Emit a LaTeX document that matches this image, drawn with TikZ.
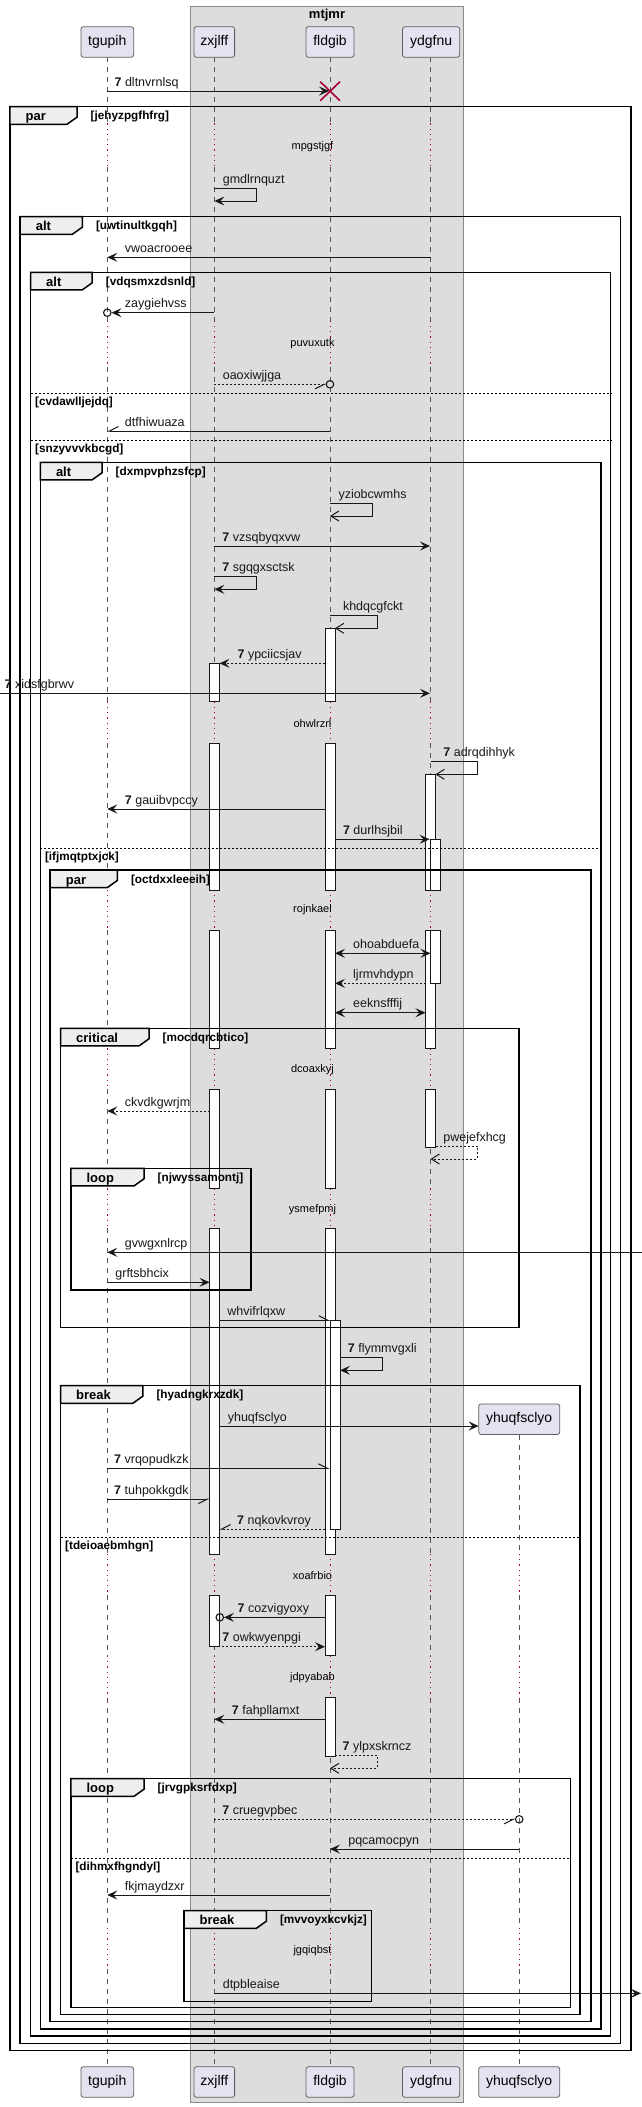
\documentclass[tikz,border=0pt]{standalone}
\usepackage{fontspec}
\setmainfont{Liberation Sans}
\usepackage{tikz}
\usetikzlibrary{arrows.meta}
\definecolor{PartFill}{HTML}{E2E2F0}
\definecolor{PartLine}{HTML}{5F5F5F}
\definecolor{BoxFill}{HTML}{DDDDDD}
\definecolor{BoxLine}{HTML}{8A8A8A}
\definecolor{LifeCol}{HTML}{555555}
\definecolor{DelayCol}{HTML}{A80036}
\definecolor{TabFill}{HTML}{EEEEEE}
\definecolor{Ink}{HTML}{181818}
\tikzstyle{part}=[draw=PartLine,fill=PartFill,rounded corners=2.5pt,line width=0.8pt,minimum height=30.6pt,inner sep=0pt,font=\fontsize{14}{16}\selectfont]
\tikzstyle{lifeline}=[draw=LifeCol,line width=0.8pt,dash pattern=on 5pt off 5pt]
\tikzstyle{delayline}=[draw=DelayCol,line width=0.8pt,dash pattern=on 1.2pt off 4pt]
\tikzstyle{act}=[draw=Ink,fill=white,line width=1pt]
\tikzstyle{frame}=[draw=black,line width=1.5pt]
\tikzset{
  msg/.style={draw=Ink,line width=1pt,->},
  both/.style={draw=Ink,line width=1pt,<->},
  open/.style={draw=Ink,line width=1pt,-{Straight Barb[length=8pt,width=10pt]}},
  half/.style={draw=Ink,line width=1pt,-{Straight Barb[harpoon,length=9pt,width=9pt]}},
  halfswap/.style={draw=Ink,line width=1pt,-{Straight Barb[harpoon,swap,length=9pt,width=9pt]}},
  ret/.style={dash pattern=on 2pt off 2pt},
  msgtext/.style={anchor=base west,inner sep=0pt,text=Ink,font=\fontsize{12.5}{15}\selectfont},
  endcircle/.style={circle,draw=Ink,line width=1.1pt,minimum size=7.5pt,inner sep=0pt},
  grpkey/.style={anchor=base west,inner sep=0pt,font=\fontsize{13}{15}\selectfont\bfseries},
  grpguard/.style={anchor=base west,inner sep=0pt,font=\fontsize{11.75}{13}\selectfont\bfseries},
  elsesep/.style={draw=black,line width=0.8pt,dash pattern=on 2pt off 2pt},
  delaytext/.style={inner sep=0pt,font=\fontsize{11}{13}\selectfont},
  destroy/.style={draw=DelayCol,line width=1.6pt}
}
\newcommand*{\seqno}{\textbf{7}\ }
% name, style, x from, x to, y, label x, label
\newcommand*{\msg}[7]{
    \coordinate (#1 from) at (#3,#5);
    \coordinate (#1 to) at (#4,#5);
    \draw[#2] (#1 from) -- (#1 to);
    \node[msgtext] (#1 label) at (#6,#5-5) {#7};
}
% name, style, x from, x right, x back, y top, y bottom, label x, label
\newcommand*{\selfmsg}[9]{
    \coordinate (#1 from) at (#3,#6);
    \coordinate (#1 turn) at (#4,#7);
    \coordinate (#1 to) at (#5,#7);
    \draw[#2] (#1 from) -| (#1 turn) -- (#1 to);
    \node[msgtext] (#1 label) at (#8,#6-5) {#9};
}
% name, left, top, right, bottom, tab right, keyword, guard
\newcommand*{\grp}[8]{
    \draw[frame] (#2,#3) rectangle (#4,#5);
    \draw[frame,fill=TabFill] (#2,#3) -- (#6,#3) -- (#6,#3+10.5) -- (#6-10,#3+17.6) -- (#2,#3+17.6) -- cycle;
    \node[grpkey] (#1 key) at (#2+15.5,#3+14.2) {#7};
    \node[grpguard] (#1 guard) at (#6+13.5,#3+13.2) {#8};
}
\newcommand*{\grpelse}[5]{
    \draw[elsesep] (#2,#4) -- (#3,#4);
    \node[grpguard] (#1) at (#2+4.5,#4+12) {#5};
}

\begin{document}
\begin{tikzpicture}[x=1pt,y=-1pt,>={Stealth[length=10pt,width=9pt,inset=4pt]}]
    \useasboundingbox (0,0) rectangle (642,2107);

    \draw[fill=BoxFill,draw=BoxLine,line width=0.8pt] (190.5,6) rectangle (463.8,2102.3);
    \node[inner sep=0pt,font=\fontsize{13}{15}\selectfont\bfseries] (mtjmr) at (327,15.3) {mtjmr};

    % lifelines, dotted where a delay runs
    \foreach \lx in {107.3,214.4,330,430.5}{
      \foreach \ya/\yb in {57.3/123.3,166.7/320.7,366.7/701.7,743.3/890,930/1048.3,1089.3/1188.3,1228.3/1554,1595/1656,1697.7/1928,1969.3/2066.7}
        \draw[lifeline] (\lx,\ya) -- (\lx,\yb);
      \foreach \ya/\yb in {123.3/166.7,320.7/366.7,701.7/743.3,890/930,1048.3/1089.3,1188.3/1228.3,1554/1595,1656/1697.7,1928/1969.3}
        \draw[delayline] (\lx,\ya) -- (\lx,\yb);
    }
    \foreach \ya/\yb in {1435/1554,1595/1656,1697.7/1928,1969.3/2066.7}
      \draw[lifeline] (519.2,\ya) -- (519.2,\yb);
    \foreach \ya/\yb in {1554/1595,1656/1697.7,1928/1969.3}
      \draw[delayline] (519.2,\ya) -- (519.2,\yb);

    \node[part,minimum width=52.7pt] (tgupih) at (107.3,42) {tgupih};
    \node[part,minimum width=40.6pt] (zxjlff) at (214.3,42) {zxjlff};
    \node[part,minimum width=48pt] (fldgib) at (330,42) {fldgib};
    \node[part,minimum width=57.2pt] (ydgfnu) at (431.1,42) {ydgfnu};
    \node[part,minimum width=52.7pt] (tgupih foot) at (107.3,2082) {tgupih};
    \node[part,minimum width=40.6pt] (zxjlff foot) at (214.3,2082) {zxjlff};
    \node[part,minimum width=48pt] (fldgib foot) at (330,2082) {fldgib};
    \node[part,minimum width=57.2pt] (ydgfnu foot) at (431.1,2082) {ydgfnu};
    \node[part,minimum width=81.1pt] (yhuqfsclyo) at (519.2,1419.2) {yhuqfsclyo};
    \node[part,minimum width=81.1pt] (yhuqfsclyo foot) at (519.2,2082) {yhuqfsclyo};

    % activations
    \foreach \ya/\yb in {663.3/701.7,743.3/890,930/1048.3,1089.3/1188.3,1228.3/1554,1595/1646.7}
      \draw[act] (209.5,\ya) rectangle (219.5,\yb);
    \foreach \ya/\yb in {628.3/701.7,743.3/890,930/1048.3,1089.3/1188.3,1228.3/1554,1595/1655.7,1697.7/1756}
      \draw[act] (325,\ya) rectangle (335,\yb);
    \draw[act] (330,1320.3) rectangle (340,1529);
    \foreach \ya/\yb in {774.3/890,930/1048.3,1089.3/1147.3}
      \draw[act] (425.5,\ya) rectangle (435.5,\yb);
    \foreach \ya/\yb in {839.3/890,930/983.3}
      \draw[act] (430.5,\ya) rectangle (440.5,\yb);

    \grp{g1}{9.9}{106.7}{630.9}{2050.7}{77}{par}{[jehyzpgfhfrg]}
    \grp{g2}{20.2}{216.7}{620.6}{2043.3}{82.3}{alt}{[uwtinultkgqh]}
    \grp{g3}{30.5}{272.3}{610.7}{2036}{92.2}{alt}{[vdqsmxzdsnld]}
    \grpelse{g3 else1}{30.5}{610.7}{393.7}{[cvdawlljejdq]}
    \grpelse{g3 else2}{30.5}{610.7}{440}{[snzyvvvkbcgd]}
    \grp{g4}{40.3}{462.3}{600.8}{2029}{102}{alt}{[dxmpvphzsfcp]}
    \grpelse{g4 else1}{40.3}{600.8}{848}{[ifjmqtptxjck]}
    \grp{g5}{50.2}{870}{591}{2021.7}{117.3}{par}{[octdxxleeeih]}
    \grp{g6}{60.5}{1028.3}{519}{1327.7}{149}{critical}{[mocdqrcbtico]}
    \grp{g7}{70.8}{1168.3}{251}{1290}{144}{loop}{[njwyssamontj]}
    \grp{g8}{60.5}{1385.7}{580.2}{2014.3}{142.8}{break}{[hyadngkrxzdk]}
    \grpelse{g8 else1}{60.5}{580.2}{1537.7}{[tdeioaebmhgn]}
    \grp{g9}{70.8}{1778.7}{570.4}{2007.7}{144}{loop}{[jrvgpksrfdxp]}
    \grpelse{g9 else1}{70.8}{570.4}{1858.3}{[dihmxfhgndyl]}
    \grp{g10}{184}{1910.7}{371.6}{2001.7}{266.3}{break}{[mvvoyxkcvkjz]}

    \node[delaytext] (d1) at (312.5,146.7) {mpgstjgf};
    \node[delaytext] (d2) at (312.5,343.3) {puvuxutk};
    \node[delaytext] (d3) at (312.5,723.3) {ohwlrzrl};
    \node[delaytext] (d4) at (312.5,910) {rojnkael};
    \node[delaytext] (d5) at (312.5,1070) {dcoaxkyj};
    \node[delaytext] (d6) at (312.5,1210) {ysmefpmj};
    \node[delaytext] (d7) at (312.5,1575.7) {xoafrbio};
    \node[delaytext] (d8) at (312.5,1677.3) {jdpyabab};
    \node[delaytext] (d9) at (312.5,1950.7) {jgqiqbst};

    \msg{m1}{msg}{107.3}{329}{91}{114.4}{\seqno dltnvrnlsq}
    \draw[destroy] (320.2,81.7) -- (340,100.7) (320.2,100.7) -- (340,81.7);
    \selfmsg{m2}{msg}{214.4}{256.4}{214.4}{188.3}{201}{222.6}{gmdlrnquzt}
    \msg{m3}{msg}{430.5}{107.3}{257.3}{124.7}{vwoacrooee}
    \node[endcircle] (m4 circle) at (107.3,312.7) {};
    \msg{m4}{msg}{214.4}{111.5}{312.7}{124.7}{zaygiehvss}
    \node[endcircle] (m5 circle) at (330,384.3) {};
    \msg{m5}{halfswap,ret}{214.4}{326.2}{384.3}{222.6}{oaoxiwjjga}
    \msg{m6}{halfswap}{330}{107.3}{431}{124.7}{dtfhiwuaza}
    \selfmsg{m7}{open}{330}{372.4}{330}{503.3}{516}{338.3}{yziobcwmhs}
    \msg{m8}{msg}{214.4}{430}{546}{222.2}{\seqno vzsqbyqxvw}
    \selfmsg{m9}{msg}{214.4}{256.4}{214.4}{576.3}{589.3}{222.2}{\seqno sgqgxsctsk}
    \selfmsg{m10}{open}{330}{377}{335}{615}{628.3}{342.8}{khdqcgfckt}
    \msg{m11}{msg,ret}{325}{219.5}{663.3}{237.4}{\seqno ypciicsjav}
    \msg{m12}{msg}{0}{430}{693.3}{4.5}{\seqno xidsfgbrwv}
    \selfmsg{m13}{open}{430.5}{477.8}{435.5}{761.7}{774.3}{443.2}{\seqno adrqdihhyk}
    \msg{m14}{msg}{325}{107.3}{809}{124.7}{\seqno gauibvpccy}
    \msg{m15}{msg}{335}{429.5}{839.3}{342.8}{\seqno durlhsjbil}
    \msg{m16}{both}{335}{430.5}{953.3}{353}{ohoabduefa}
    \msg{m17}{msg,ret}{425.5}{335}{983.3}{353}{ljrmvhdypn}
    \msg{m18}{both}{335}{425.5}{1012.7}{353}{eeknsfffij}
    \msg{m19}{msg,ret}{209.5}{107.3}{1111}{124.7}{ckvdkgwrjm}
    \selfmsg{m20}{open,ret}{435.5}{477.8}{430.5}{1146.7}{1159}{443.2}{pwejefxhcg}
    \msg{m21}{msg}{642}{107.3}{1252.3}{124.7}{gvwgxnlrcp}
    \msg{m22}{msg}{107.3}{209.5}{1282.3}{115.2}{grftsbhcix}
    \msg{m23}{half}{219.5}{330}{1320.3}{227.2}{whvifrlqxw}
    \selfmsg{m24}{msg}{340}{382.7}{340}{1357.7}{1370.3}{347.7}{\seqno flymmvgxli}
    \msg{m25}{msg}{219.5}{478.6}{1426}{227.6}{yhuqfsclyo}
    \msg{m26}{half}{107.3}{329.5}{1468.3}{114}{\seqno vrqopudkzk}
    \msg{m27}{halfswap}{107.3}{209.5}{1499}{114}{\seqno tuhpokkgdk}
    \msg{m28}{halfswap,ret}{325}{219.5}{1529}{237}{\seqno nqkovkvroy}
    \node[endcircle] (m29 circle) at (219.8,1617.3) {};
    \msg{m29}{msg}{325}{224}{1617.3}{237.4}{\seqno cozvigyoxy}
    \msg{m30}{msg,ret}{214.4}{325}{1646.7}{222.2}{\seqno owkwyenpgi}
    \msg{m31}{msg}{325}{214.4}{1719.3}{231.7}{\seqno fahpllamxt}
    \selfmsg{m32}{open,ret}{335}{377}{330}{1755}{1768.3}{342.4}{\seqno ylpxskrncz}
    \node[endcircle] (m33 circle) at (519.2,1819.3) {};
    \msg{m33}{halfswap,ret}{214.4}{515.2}{1819.3}{222.2}{\seqno cruegvpbec}
    \msg{m34}{msg}{519.2}{330}{1849}{348.1}{pqcamocpyn}
    \msg{m35}{msg}{330}{107.3}{1895}{124.7}{fkjmaydzxr}
    \msg{m36}{msg}{214.4}{641}{1993.3}{222.6}{dtpbleaise}
\end{tikzpicture}
\end{document}
